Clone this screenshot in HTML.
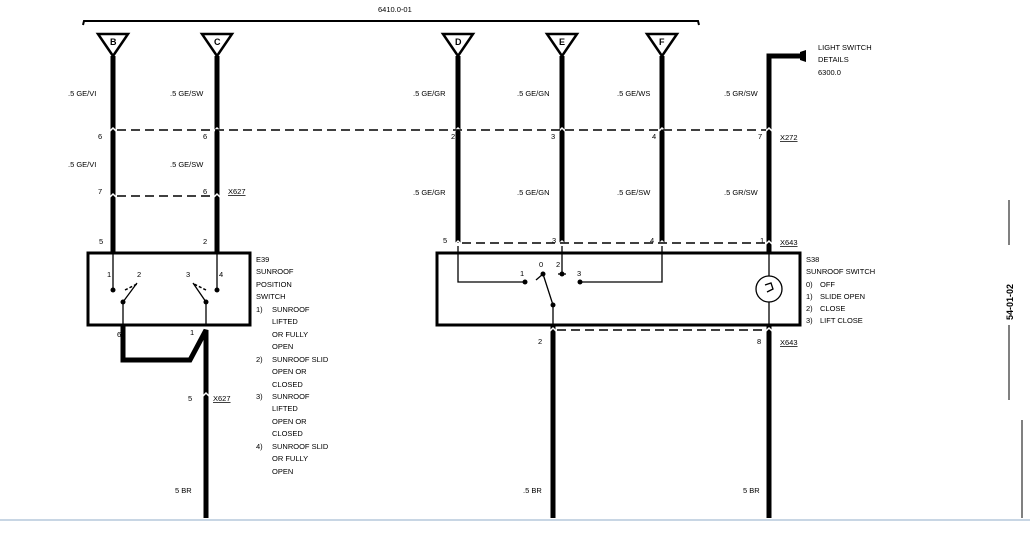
<!DOCTYPE html>
<html><head><meta charset="utf-8"><style>
html,body{margin:0;padding:0;background:#fff;}
svg{display:block;}
text{font-family:"Liberation Sans",sans-serif;font-size:7.5px;fill:#000;}
</style></head><body>
<svg width="1030" height="533" viewBox="0 0 1030 533" xmlns="http://www.w3.org/2000/svg">
<rect width="1030" height="533" fill="#fff"/>
<path d="M83 25 L84 21 L698 21 L699 25" fill="none" stroke="#000" stroke-width="2"/>
<text x="378" y="12">6410.0-01</text>
<g fill="#fff" stroke="#000" stroke-width="2.5">
<path d="M98 34 L128 34 L113 56 Z"/><path d="M202 34 L232 34 L217 56 Z"/>
<path d="M443 34 L473 34 L458 56 Z"/><path d="M547 34 L577 34 L562 56 Z"/>
<path d="M647 34 L677 34 L662 56 Z"/>
</g>
<g font-weight="bold"><text x="110" y="45" style="font-size:9px">B</text><text x="214" y="45" style="font-size:9px">C</text>
<text x="455" y="45" style="font-size:9px">D</text><text x="559" y="45" style="font-size:9px">E</text><text x="659" y="45" style="font-size:9px">F</text></g>
<g stroke="#000" stroke-width="5" fill="none">
<path d="M113 56 V253"/><path d="M217 56 V253"/>
<path d="M458 56 V243"/><path d="M562 56 V243"/><path d="M662 56 V243"/>
<path d="M800 56 H769 V253"/>
<path d="M769 325 V518"/><path d="M553 325 V518"/>
<path d="M123 325 V360 H190 L206 330 V518"/>
</g>
<path d="M800 52 L806 50 L806 62 L800 60 Z" fill="#000"/>
<g stroke="#fff" stroke-width="1.5" fill="none">
<path d="M108 133 L113 128 L118 133"/><path d="M212 133 L217 128 L222 133"/>
<path d="M453 133 L458 128 L463 133"/><path d="M557 133 L562 128 L567 133"/><path d="M657 133 L662 128 L667 133"/><path d="M764 133 L769 128 L774 133"/>
<path d="M108 199 L113 194 L118 199"/><path d="M212 199 L217 194 L222 199"/>
<path d="M453 246 L458 241 L463 246"/><path d="M557 246 L562 241 L567 246"/><path d="M657 246 L662 241 L667 246"/><path d="M764 246 L769 241 L774 246"/>
<path d="M548 333 L553 328 L558 333"/><path d="M764 333 L769 328 L774 333"/>
<path d="M201 398 L206 393 L211 398"/>
</g>
<g stroke="#000" stroke-width="1.5" stroke-dasharray="9,5" fill="none">
<path d="M117 130 H766"/><path d="M117 196 H214"/><path d="M462 243 H766"/><path d="M557 330 H766"/>
<path d="M125 290 L137 284" stroke-dasharray="3,2"/><path d="M206 290 L194 284" stroke-dasharray="3,2"/>
</g>
<rect x="88" y="253" width="162" height="72" fill="none" stroke="#000" stroke-width="3"/>
<rect x="437" y="253" width="363" height="72" fill="none" stroke="#000" stroke-width="3"/>
<g stroke="#000" stroke-width="1.3" fill="none">
<path d="M113 253 V290"/><path d="M217 253 V290"/>
<path d="M123 325 V302 L137 283"/><path d="M206 325 V302 L193 283"/>
<path d="M458 246 V282 H523"/><path d="M662 246 V282 H581"/>
<path d="M562 246 V274"/><path d="M553 325 V305 L543 274"/>
<path d="M769 253 V276"/><path d="M769 302 V325"/>
<circle cx="769" cy="289" r="13"/>
<path d="M536 280 L543 274"/><path d="M558 274 H566"/>
</g>
<g fill="#000">
<circle cx="113" cy="290" r="2.5"/><circle cx="217" cy="290" r="2.5"/>
<circle cx="123" cy="302" r="2.5"/><circle cx="206" cy="302" r="2.5"/>
<circle cx="525" cy="282" r="2.5"/><circle cx="543" cy="274" r="2.5"/><circle cx="562" cy="274" r="2.5"/>
<circle cx="580" cy="282" r="2.5"/><circle cx="553" cy="305" r="2.5"/>
</g>
<path d="M765 285 L771 283 L773 289 L767 292" fill="none" stroke="#000" stroke-width="1.3"/>
<text x="68" y="96">.5 GE/VI</text><text x="170" y="96">.5 GE/SW</text>
<text x="413" y="96">.5 GE/GR</text><text x="517" y="96">.5 GE/GN</text><text x="617" y="96">.5 GE/WS</text><text x="724" y="96">.5 GR/SW</text>
<text x="68" y="167">.5 GE/VI</text><text x="170" y="167">.5 GE/SW</text>
<text x="413" y="195">.5 GE/GR</text><text x="517" y="195">.5 GE/GN</text><text x="617" y="195">.5 GE/SW</text><text x="724" y="195">.5 GR/SW</text>
<text x="98" y="139">6</text><text x="203" y="139">6</text><text x="451" y="139">2</text><text x="551" y="139">3</text><text x="652" y="139">4</text><text x="758" y="139">7</text>
<text x="780" y="140" text-decoration="underline">X272</text>
<text x="98" y="194">7</text><text x="203" y="194">6</text><text x="228" y="194" text-decoration="underline">X627</text>
<text x="99" y="244">5</text><text x="203" y="244">2</text>
<text x="443" y="243">5</text><text x="552" y="243">3</text><text x="650" y="243">4</text><text x="760" y="243">1</text>
<text x="780" y="245" text-decoration="underline">X643</text>
<text x="107" y="277">1</text><text x="137" y="277">2</text><text x="186" y="277">3</text><text x="219" y="277">4</text>
<text x="117" y="337">6</text><text x="190" y="335">1</text>
<text x="188" y="401">5</text><text x="213" y="401" text-decoration="underline">X627</text>
<text x="520" y="276">1</text><text x="539" y="267">0</text><text x="556" y="267">2</text><text x="577" y="276">3</text>
<text x="538" y="344">2</text><text x="757" y="344">8</text><text x="780" y="345" text-decoration="underline">X643</text>
<text x="175" y="493">5 BR</text><text x="523" y="493">.5 BR</text><text x="743" y="493">5 BR</text>
<text x="256" y="262">E39</text><text x="256" y="274">SUNROOF</text><text x="256" y="287">POSITION</text><text x="256" y="299">SWITCH</text>
<text x="256" y="312">1)</text><text x="272" y="312">SUNROOF</text><text x="272" y="324">LIFTED</text><text x="272" y="337">OR FULLY</text><text x="272" y="349">OPEN</text>
<text x="256" y="362">2)</text><text x="272" y="362">SUNROOF SLID</text><text x="272" y="374">OPEN OR</text><text x="272" y="387">CLOSED</text>
<text x="256" y="399">3)</text><text x="272" y="399">SUNROOF</text><text x="272" y="411">LIFTED</text><text x="272" y="424">OPEN OR</text><text x="272" y="436">CLOSED</text>
<text x="256" y="449">4)</text><text x="272" y="449">SUNROOF SLID</text><text x="272" y="461">OR FULLY</text><text x="272" y="474">OPEN</text>
<text x="806" y="262">S38</text><text x="806" y="274">SUNROOF SWITCH</text>
<text x="806" y="287">0)</text><text x="820" y="287">OFF</text><text x="806" y="299">1)</text><text x="820" y="299">SLIDE OPEN</text>
<text x="806" y="311">2)</text><text x="820" y="311">CLOSE</text><text x="806" y="323">3)</text><text x="820" y="323">LIFT CLOSE</text>
<text x="818" y="50">LIGHT SWITCH</text><text x="818" y="62">DETAILS</text><text x="818" y="75">6300.0</text>
<path d="M1009 200 V245 M1009 325 V400 M1022 420 V518" stroke="#000" stroke-width="1"/>
<text transform="translate(1013,320) rotate(-90)" style="font-size:9px;font-weight:bold">54-01-02</text>
<rect x="0" y="519" width="1030" height="2" fill="#c8d6e4"/>
</svg>
</body></html>
